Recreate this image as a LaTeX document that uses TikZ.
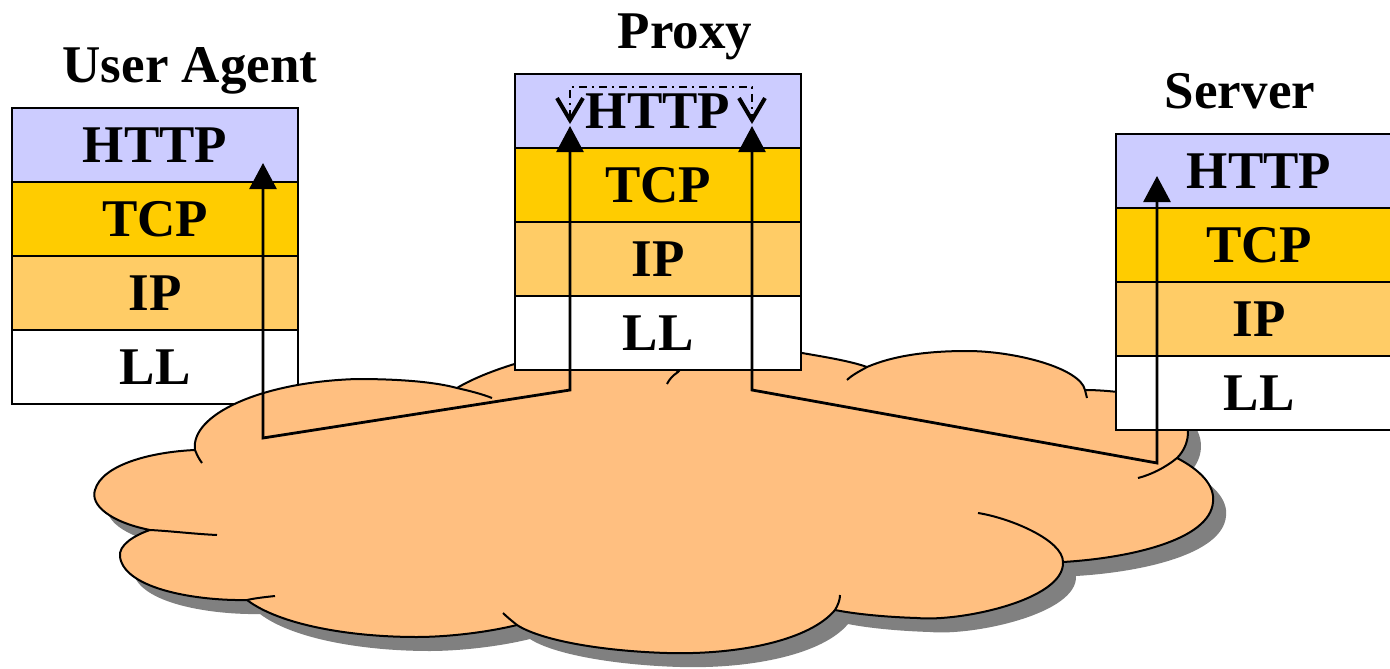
\documentclass[tikz,border=0pt]{standalone}
\usepackage{fontspec}
\setmainfont{Liberation Serif}
\usetikzlibrary{arrows.meta}

\definecolor{httpc}{RGB}{204,204,255}
\definecolor{tcpc}{RGB}{255,204,0}
\definecolor{ipc}{RGB}{255,204,102}
\definecolor{cloudc}{RGB}{255,191,128}
\definecolor{shadowc}{RGB}{128,128,128}

% outer contour of the network cloud
\newcommand{\cloudcontour}{(195,450)
  .. controls (190,415) and (260,382) .. (357,379)
  .. controls (400,379) and (435,382) .. (457,388)
  .. controls (490,368) and (560,348) .. (605,348)
  .. controls (640,348) and (670,360) .. (678,372)
  .. controls (700,345) and (760,345) .. (802,353)
  .. controls (825,357) and (850,361) .. (867,367)
  .. controls (895,355) and (930,351) .. (967,351)
  .. controls (1015,351) and (1080,368) .. (1085,390)
  .. controls (1110,390) and (1160,395) .. (1180,410)
  .. controls (1192,425) and (1190,445) .. (1177,458)
  .. controls (1200,470) and (1215,485) .. (1213,502)
  .. controls (1210,540) and (1130,558) .. (1063,562)
  .. controls (1065,600) and (960,622) .. (917,618)
  .. controls (885,617) and (855,614) .. (835,610)
  .. controls (810,640) and (740,655) .. (667,653)
  .. controls (600,651) and (540,640) .. (517,625)
  .. controls (480,634) and (440,637) .. (417,637)
  .. controls (350,637) and (280,625) .. (247,600)
  .. controls (200,601) and (125,590) .. (120,557)
  .. controls (118,545) and (135,535) .. (150,530)
  .. controls (110,522) and (90,505) .. (95,490)
  .. controls (102,465) and (150,452) .. (195,450)
  -- cycle}

\begin{document}
\begin{tikzpicture}[x=1pt,y=-1pt,
  layer/.style={draw=black, line width=2.6pt, minimum width=286pt,
    minimum height=74pt, inner sep=0pt,
    font=\fontsize{53}{53}\selectfont\bfseries},
  stacktitle/.style={font=\fontsize{53}{53}\selectfont\bfseries,
    anchor=base, inner sep=0pt},
  flow/.style={line width=2.8pt,
    {Triangle[length=26pt,width=27pt]}-{Triangle[length=26pt,width=27pt]}},
  barb/.tip={Straight Barb[length=22pt,width=26pt,line width=2pt 1]},
  relay/.style={line width=2pt, dash pattern=on 8pt off 5pt on 2pt off 5pt,
    barb-barb},
  cloudline/.style={line width=2pt, line join=round}
]
\clip (0,0) rectangle (1390,669);

% user agent protocol stack
\node[layer, fill=httpc] (ua-http) at (155,145) {HTTP};
\node[layer, fill=tcpc]  (ua-tcp)  at (155,219) {TCP};
\node[layer, fill=ipc]   (ua-ip)   at (155,293) {IP};
\node[layer, fill=white] (ua-ll)   at (155,367) {LL};

% network cloud with its drop shadow
\fill[shadowc, shift={(13,14)}] \cloudcontour;
\draw[cloudline, fill=cloudc] \cloudcontour;
% inner strokes where the lobes overlap
\draw[cloudline] (457,388) .. controls (470,391) and (482,394) .. (492,398);
\draw[cloudline] (678,372) .. controls (672,376) and (669,380) .. (667,384);
\draw[cloudline] (867,367) .. controls (860,371) and (852,375) .. (847,380);
\draw[cloudline] (1085,390) -- (1087,398);
\draw[cloudline] (1177,458) .. controls (1165,468) and (1150,475) .. (1138,478);
\draw[cloudline] (1063,562) .. controls (1063,540) and (1010,518) .. (978,513);
\draw[cloudline] (835,610) .. controls (838,605) and (840,600) .. (840,595);
\draw[cloudline] (517,625) .. controls (512,621) and (507,617) .. (503,613);
\draw[cloudline] (247,600) .. controls (256,598) and (266,597) .. (275,596);
\draw[cloudline] (150,530) .. controls (170,531) and (195,534) .. (217,535);
\draw[cloudline] (195,450) .. controls (197,455) and (199,459) .. (202,463);

% proxy protocol stack
\node[layer, fill=httpc] (px-http) at (658,111) {HTTP};
\node[layer, fill=tcpc]  (px-tcp)  at (658,185) {TCP};
\node[layer, fill=ipc]   (px-ip)   at (658,259) {IP};
\node[layer, fill=white] (px-ll)   at (658,333) {LL};

% server protocol stack
\node[layer, fill=httpc] (sv-http) at (1259,171) {HTTP};
\node[layer, fill=tcpc]  (sv-tcp)  at (1259,245) {TCP};
\node[layer, fill=ipc]   (sv-ip)   at (1259,319) {IP};
\node[layer, fill=white] (sv-ll)   at (1259,393) {LL};

% stack titles
\node[stacktitle] (ua-title) at (190,83)  {User Agent};
\node[stacktitle] (px-title) at (685,49)  {Proxy};
\node[stacktitle] (sv-title) at (1240,108) {Server};

% end points of the data paths
\coordinate (uaTip)   at (263,163);
\coordinate (uaFoot)  at (263,438);
\coordinate (pxInL)   at (570,390);
\coordinate (pxTipL)  at (570,126);
\coordinate (pxOutR)  at (752,390);
\coordinate (pxTipR)  at (752,126);
\coordinate (svFoot)  at (1157,463);
\coordinate (svTip)   at (1157,176);
\coordinate (relayL)  at (570,124);
\coordinate (relayTL) at (570,87);
\coordinate (relayTR) at (752,87);
\coordinate (relayR)  at (752,124);

% data paths through the network
\draw[flow] (uaTip) -- (uaFoot) -- (pxInL) -- (pxTipL);
\draw[flow] (pxTipR) -- (pxOutR) -- (svFoot) -- (svTip);

% relaying inside the proxy HTTP layer
\draw[relay] (relayL) -- (relayTL) -- (relayTR) -- (relayR);
\end{tikzpicture}
\end{document}
